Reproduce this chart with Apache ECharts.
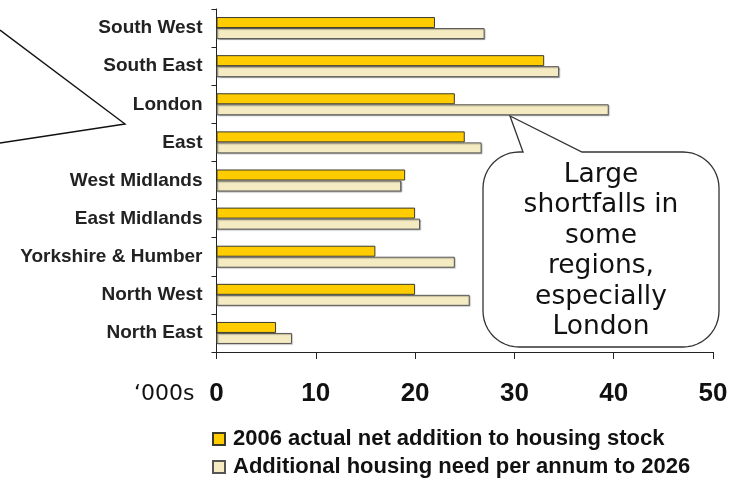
<!DOCTYPE html>
<html>
<head>
<meta charset="utf-8">
<script src="https://cdn.jsdelivr.net/npm/echarts@6/dist/echarts.min.js"></script>
<style>
  html, body { margin: 0; padding: 0; background: #fff; }
  #chart { width: 742px; height: 480px; }
</style>
</head>
<body>
<div id="chart"></div>
<script>
// Regions, top to bottom
const regions = ['South West', 'South East', 'London', 'East', 'West Midlands',
  'East Midlands', 'Yorkshire & Humber', 'North West', 'North East'];
// 2006 actual net addition to housing stock ('000s)
const actual2006 = [22, 33, 24, 25, 19, 20, 16, 20, 6];
// Additional housing need per annum to 2026 ('000s)
const needPerAnnum = [27, 34.5, 39.5, 26.7, 18.6, 20.5, 24, 25.5, 7.6];
const xTicks = [0, 10, 20, 30, 40, 50];
const seriesNames = ['2006 actual net addition to housing stock',
  'Additional housing need per annum to 2026'];
const calloutLines = ['Large', 'shortfalls in', 'some', 'regions,', 'especially', 'London'];

const chart = echarts.init(document.getElementById('chart'));

// Outline of a rounded speech bubble with a pointer on its top edge
function bubblePoints(x0, y0, x1, y1, r, px0, px1, tipX, tipY) {
  const pts = [];
  const arc = (cx, cy, a0, a1) => {
    const n = 12;
    for (let i = 0; i <= n; i++) {
      const a = a0 + (a1 - a0) * i / n;
      pts.push([cx + r * Math.cos(a), cy + r * Math.sin(a)]);
    }
  };
  pts.push([px0, y0], [tipX, tipY], [px1, y0]);
  arc(x1 - r, y0 + r, -Math.PI / 2, 0);
  arc(x1 - r, y1 - r, 0, Math.PI / 2);
  arc(x0 + r, y1 - r, Math.PI / 2, Math.PI);
  arc(x0 + r, y0 + r, Math.PI, Math.PI * 1.5);
  return pts;
}

const legendText = {
  fontFamily: 'Liberation Sans, Arial, sans-serif',
  fontWeight: 'bold',
  fontSize: 22,
  lineHeight: 22,
  color: '#111',
  padding: [0, 0, 0, 3]
};

const option = {
  animation: false,
  backgroundColor: '#ffffff',
  grid: { left: 216.5, right: 29, top: 9, bottom: 128, containLabel: false },
  xAxis: {
    type: 'value',
    min: xTicks[0],
    max: xTicks[xTicks.length - 1],
    interval: 10,
    splitLine: { show: false },
    axisLine: { show: true, lineStyle: { color: '#222', width: 1 } },
    axisTick: { show: true, length: 7, lineStyle: { color: '#222' } },
    axisLabel: {
      margin: 29,
      fontFamily: 'Liberation Sans, Arial, sans-serif',
      fontWeight: 'bold',
      fontSize: 26,
      color: '#111'
    }
  },
  yAxis: {
    type: 'category',
    data: regions,
    inverse: true,
    axisLine: { show: true, lineStyle: { color: '#222', width: 1 } },
    axisTick: { show: true, length: 5, lineStyle: { color: '#222' } },
    axisLabel: {
      margin: 14,
      fontFamily: 'Liberation Sans, Arial, sans-serif',
      fontWeight: 'bold',
      fontSize: 19,
      color: '#222'
    }
  },
  legend: [
    {
      left: 212, top: 428, itemWidth: 12, itemHeight: 12, itemGap: 0,
      icon: 'rect', data: [seriesNames[0]], textStyle: legendText, padding: 0
    },
    {
      left: 212, top: 456, itemWidth: 12, itemHeight: 12, itemGap: 0,
      icon: 'rect', data: [seriesNames[1]], textStyle: legendText, padding: 0
    }
  ],
  series: [
    {
      name: seriesNames[0],
      type: 'bar',
      data: actual2006,
      barWidth: 11,
      barGap: '0%',
      itemStyle: { color: '#FFCC00', borderColor: '#3a3a2a', borderWidth: 1 }
    },
    {
      name: seriesNames[1],
      type: 'bar',
      data: needPerAnnum,
      barWidth: 11,
      barGap: '0%',
      itemStyle: {
        color: '#F5EBC2', borderColor: '#555', borderWidth: 1,
        shadowColor: 'rgba(0,0,0,0.25)', shadowOffsetX: 1, shadowOffsetY: 1, shadowBlur: 1
      }
    }
  ],
  graphic: [
    // "'000s" unit label beside the value axis
    {
      type: 'text',
      x: 134,
      y: 383,
      style: {
        text: '\u2018000s',
        fontFamily: 'DejaVu Sans, Verdana, sans-serif',
        fontSize: 22,
        fill: '#111'
      }
    },
    // Partial bubble pointer at the left edge
    {
      type: 'polyline',
      shape: { points: [[0, 30], [125, 124], [0, 143]] },
      style: { stroke: '#111', lineWidth: 1.4, fill: null },
      z: 5
    },
    // Callout bubble
    {
      type: 'polygon',
      shape: { points: bubblePoints(483, 152, 719, 347, 36, 523, 582, 510, 116) },
      style: { stroke: '#333', lineWidth: 1.3, fill: '#fff' },
      z: 10
    },
    {
      type: 'text',
      x: 601,
      y: 160,
      z: 11,
      style: {
        text: calloutLines.join('\n'),
        fontFamily: 'DejaVu Sans, Verdana, sans-serif',
        fontSize: 26.5,
        lineHeight: 30.4,
        align: 'center',
        verticalAlign: 'top',
        fill: '#111'
      }
    }
  ]
};

chart.setOption(option);
</script>
</body>
</html>
